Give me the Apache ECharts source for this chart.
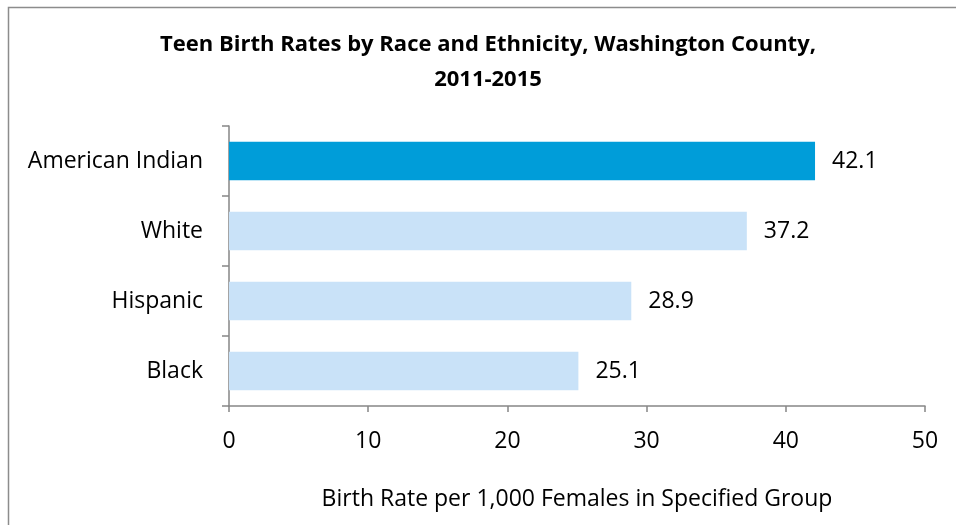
<!DOCTYPE html>
<html>
<head>
<meta charset="utf-8">
<script src="https://cdn.jsdelivr.net/npm/echarts@6/dist/echarts.min.js"></script>
<style>
html,body{margin:0;padding:0;background:#fff;}
#chart{width:956px;height:525px;}
</style>
</head>
<body>
<div id="chart"></div>
<script>
const titleText = 'Teen Birth Rates by Race and Ethnicity, Washington County,\n2011-2015';
const categories = ['American Indian', 'White', 'Hispanic', 'Black'];
const values = [42.1, 37.2, 28.9, 25.1];
const xTicks = [0, 10, 20, 30, 40, 50];
const axisName = 'Birth Rate per 1,000 Females in Specified Group';

const FONT = '"Open Sans", "Noto Sans", sans-serif';
const highlightColor = '#009DD9';
const baseColor = '#C9E2F8';

const chart = echarts.init(document.getElementById('chart'), null, {renderer: 'canvas'});
chart.setOption({
  animation: false,
  backgroundColor: '#fff',
  graphic: [{
    type: 'rect',
    shape: {x: 8.5, y: 7.5, width: 1000, height: 600},
    style: {fill: 'none', stroke: '#8c8c8c', lineWidth: 1.5},
    silent: true
  }],
  title: {
    text: titleText,
    left: 483,
    top: 22,
    textAlign: 'center',
    textStyle: {fontFamily: FONT, fontWeight: 'bold', fontSize: 22, color: '#000', lineHeight: 35}
  },
  grid: {left: 229, right: 31, top: 126, bottom: 119, containLabel: false},
  xAxis: {
    type: 'value',
    min: xTicks[0],
    max: xTicks[xTicks.length - 1],
    interval: 10,
    name: axisName,
    nameLocation: 'middle',
    nameGap: 82,
    nameTextStyle: {fontFamily: FONT, fontSize: 23, color: '#000'},
    axisLine: {show: true, lineStyle: {color: '#868686', width: 1.5}},
    axisTick: {show: true, length: 6, lineStyle: {color: '#868686', width: 1.5}},
    axisLabel: {fontFamily: FONT, fontSize: 23, color: '#000', margin: 24},
    splitLine: {show: false}
  },
  yAxis: {
    type: 'category',
    data: categories,
    inverse: true,
    axisLine: {show: true, lineStyle: {color: '#868686', width: 1.5}},
    axisTick: {show: true, length: 7, inside: false, lineStyle: {color: '#868686', width: 1.5}},
    axisLabel: {fontFamily: FONT, fontSize: 23, color: '#000', margin: 26}
  },
  series: [{
    type: 'bar',
    data: values.map((v, i) => ({value: v, itemStyle: {color: i === 0 ? highlightColor : baseColor}})),
    barCategoryGap: '45%',
    label: {
      show: true,
      position: 'right',
      distance: 17,
      fontFamily: FONT,
      fontSize: 23,
      color: '#000',
      formatter: p => p.value.toFixed(1)
    }
  }]
});
</script>
</body>
</html>
